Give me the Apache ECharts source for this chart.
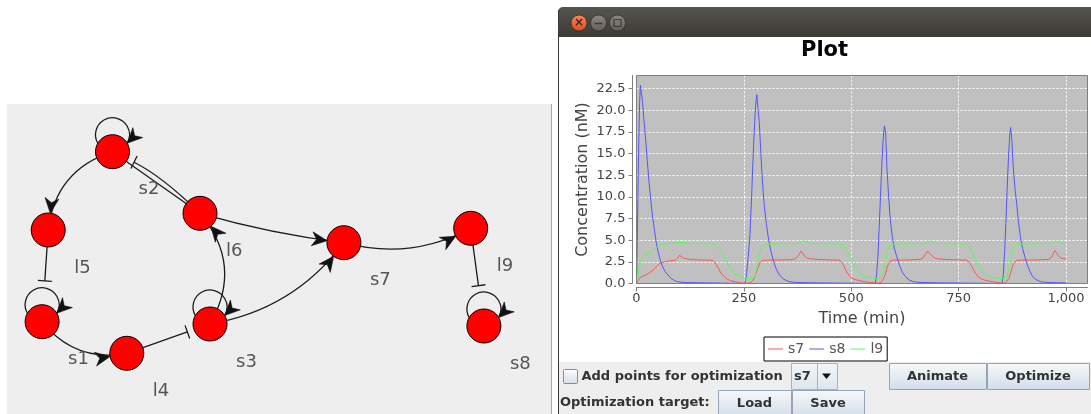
<!DOCTYPE html>
<html><head><meta charset="utf-8">
<script src="https://cdn.jsdelivr.net/npm/echarts@6/dist/echarts.min.js"></script>
<style>html,body{margin:0;padding:0;background:#fff;}#c{width:1091px;height:414px;}</style>
</head><body><div id="c"></div>
<script>
// ---------- plot data (time in min, concentration in nM) ----------
const seriesNames = ['s7', 's8', 'l9'];
const s7Data = [[0,0],[4,0.4],[9,0.7],[15,0.85],[22,1.0],[30,1.22],[36,1.45],[42,1.72],[48,2.0],[54,2.3],[61,2.45],[69,2.55],[80,2.62],[90,2.7],[96,2.95],[100,3.25],[104,3.15],[109,2.95],[115,2.85],[130,2.75],[150,2.72],[176,2.68],[181,2.5],[186,2.15],[190,1.8],[195,1.35],[200,1.0],[206,0.7],[212,0.48],[220,0.32],[230,0.2],[240,0.1],[252,0.03],[260,0.04],[265,0.12],[270,0.3],[275,0.8],[280,1.45],[284,2.0],[288,2.45],[293,2.65],[300,2.7],[330,2.72],[360,2.75],[370,2.85],[377,3.2],[383,3.75],[387,3.65],[391,3.2],[396,2.95],[405,2.85],[430,2.75],[472,2.7],[477,2.5],[482,2.1],[486,1.65],[491,1.2],[497,0.8],[504,0.55],[513,0.4],[525,0.27],[536,0.18],[548,0.1],[560,0.04],[566,0.08],[571,0.2],[575,0.4],[579,1.0],[583,1.8],[587,2.3],[591,2.6],[598,2.7],[630,2.72],[660,2.78],[667,2.95],[672,3.3],[678,3.75],[682,3.7],[687,3.25],[693,2.95],[700,2.85],[730,2.75],[768,2.7],[774,2.5],[779,2.1],[784,1.65],[789,1.2],[795,0.8],[802,0.55],[810,0.4],[822,0.27],[833,0.17],[845,0.09],[855,0.04],[860,0.12],[864,0.3],[867,0.6],[871,1.2],[875,1.9],[879,2.4],[884,2.62],[890,2.7],[930,2.72],[960,2.78],[966,3.0],[970,3.4],[974,3.8],[978,3.6],[983,3.15],[990,2.9],[1000,2.8]];
const s8Data = [[0,0],[1,2],[3,9],[5,15.5],[7,20.5],[9,22.9],[11,22.7],[14,21],[17,19],[21,16.8],[25,14.2],[29,11.8],[33,9.7],[37,7.9],[42,6.1],[46,4.7],[51,3.5],[56,2.6],[61,1.9],[67,1.35],[73,1.0],[80,0.62],[88,0.35],[96,0.2],[110,0.12],[140,0.09],[166,0.07],[168,0],[252,0],[256,1],[260,3],[264,5.5],[268,10],[271,14],[274,17.5],[277,20.3],[280,21.8],[283,21.6],[286,18.5],[289,15.5],[292,12.8],[295,10.5],[298,8.8],[302,7],[306,5.6],[310,4.4],[315,3.3],[320,2.4],[326,1.6],[332,1.05],[340,0.6],[348,0.35],[357,0.2],[370,0.12],[400,0.09],[423,0.07],[425,0],[556,0],[559,1],[562,3],[565,6.5],[568,10],[571,13.5],[574,16.5],[577,18.2],[580,17.5],[583,13.4],[587,10],[591,7.3],[595,5.6],[600,4.1],[606,3.1],[612,2.1],[619,1.3],[626,0.8],[635,0.4],[645,0.2],[660,0.12],[690,0.09],[719,0.07],[721,0],[851,0],[854,1],[857,3.5],[860,7],[863,11],[866,14.5],[869,17.2],[871,18],[874,16.5],[877,13.5],[881,11],[885,9.3],[889,7.2],[894,5.3],[899,4],[904,3.1],[910,2.1],[916,1.4],[922,0.8],[930,0.45],[941,0.2],[955,0.12],[980,0.09],[1000,0.07]];
const l9Data = [[0,0],[3,0.8],[6,1.8],[9,2.5],[12,2.95],[16,3.15],[22,3.3],[28,3.5],[34,3.65],[40,3.85],[46,4.1],[52,4.35],[58,4.5],[65,4.55],[80,4.6],[92,4.7],[100,4.75],[110,4.72],[125,4.62],[150,4.58],[181,4.57],[186,4.45],[192,4.15],[197,3.8],[202,3.3],[207,2.8],[212,2.3],[217,1.9],[223,1.5],[230,1.12],[237,0.88],[245,0.7],[252,0.6],[262,0.56],[270,0.6],[276,0.9],[280,1.8],[284,2.9],[288,3.8],[292,4.3],[296,4.5],[305,4.55],[340,4.57],[370,4.6],[380,4.7],[386,4.9],[392,4.88],[400,4.7],[412,4.62],[440,4.57],[478,4.55],[483,4.35],[488,3.95],[493,3.5],[498,3.0],[503,2.45],[508,1.95],[514,1.5],[520,1.15],[527,0.9],[534,0.78],[542,0.68],[550,0.6],[558,0.56],[566,0.6],[572,0.9],[576,1.6],[580,2.7],[584,3.7],[588,4.25],[592,4.5],[600,4.55],[640,4.57],[668,4.6],[675,4.75],[681,4.9],[688,4.82],[695,4.65],[705,4.6],[740,4.57],[768,4.55],[773,4.35],[778,3.95],[783,3.5],[788,3.0],[793,2.45],[798,1.95],[804,1.5],[810,1.15],[817,0.9],[824,0.78],[832,0.68],[840,0.6],[850,0.56],[858,0.6],[863,0.9],[867,1.6],[871,2.7],[875,3.7],[879,4.25],[883,4.5],[890,4.55],[930,4.57],[962,4.6],[970,4.75],[976,4.9],[983,4.8],[990,4.65],[1000,4.6]];
const xTickStep = 250;
const yTickStep = 2.5;

// ---------- network diagram data ----------
const nodeNames = ['s2', 'l5', 's1', 'l4', 's3', 'l6', 's7', 'l9', 's8'];
const nodeX = [112.5, 48.2, 42.1, 126.8, 210, 200, 343.9, 470.7, 483.9];
const nodeY = [151.7, 230, 321.7, 353.3, 324, 213.3, 242.7, 228.3, 326];
const edgeSource = ['s2', 'l5', 's1', 'l4', 's3', 's2', 'l6', 'l6', 's3', 's7', 'l9'];
const edgeTarget = ['l5', 's1', 'l4', 's3', 'l6', 'l6', 's2', 's7', 's7', 'l9', 's8'];
const edgeKind   = ['act', 'inh', 'act', 'inh', 'act', 'link', 'inh', 'act', 'act', 'act', 'inh'];
const edgeBend   = [0.32, 0, 0.3, 0, 0.35, 0, 0.08, 0.04, 0.2, 0.2, 0];
const selfLoops  = ['s2', 's1', 's3', 's8'];

const FONT = '"DejaVu Sans", sans-serif';
const R = 17, AL = 15, AW = 7, AN = 4.5, THALF = 7, TGAP = 7;
const LINE = '#1c1c1c';

function arrowHead(tip, u) {
  const n = [-u[1], u[0]];
  return { type: 'polygon', shape: { points: [
    tip,
    [tip[0] - u[0] * AL + n[0] * AW, tip[1] - u[1] * AL + n[1] * AW],
    [tip[0] - u[0] * (AL - AN), tip[1] - u[1] * (AL - AN)],
    [tip[0] - u[0] * AL - n[0] * AW, tip[1] - u[1] * AL - n[1] * AW]
  ] }, style: { fill: '#111', stroke: '#111', lineWidth: 0.6 } };
}
function curve(a, c, b, straight) {
  if (straight) return { type: 'line', shape: { x1: a[0], y1: a[1], x2: b[0], y2: b[1] }, style: { stroke: LINE, lineWidth: 1.3 } };
  return { type: 'bezierCurve', shape: { x1: a[0], y1: a[1], x2: b[0], y2: b[1], cpx1: c[0], cpy1: c[1] }, style: { stroke: LINE, lineWidth: 1.3, fill: null } };
}
function renderEdge(params, api) {
  const k = api.value(2);
  const si = nodeNames.indexOf(edgeSource[k]), ti = nodeNames.indexOf(edgeTarget[k]);
  const a = api.coord([nodeX[si], nodeY[si]]), b = api.coord([nodeX[ti], nodeY[ti]]);
  const dx = b[0] - a[0], dy = b[1] - a[1];
  const bend = edgeBend[k];
  const c = [(a[0] + b[0]) / 2 - dy * bend, (a[1] + b[1]) / 2 + dx * bend];
  const tx = b[0] - c[0], ty = b[1] - c[1], tl = Math.hypot(tx, ty);
  const u = [tx / tl, ty / tl];
  const straight = bend === 0;
  const ch = [];
  if (edgeKind[k] === 'act') {
    ch.push(curve(a, c, b, straight));
    ch.push(arrowHead([b[0] - u[0] * R, b[1] - u[1] * R], u));
  } else if (edgeKind[k] === 'inh') {
    const v = [-u[0], -u[1]];
    let d = R;
    if (selfLoops.indexOf(edgeTarget[k]) >= 0) d = Math.max(d, -2 * R * v[1]);
    d += TGAP;
    const p = [b[0] + v[0] * d, b[1] + v[1] * d];
    ch.push(curve(a, c, p, straight));
    const n = [-u[1], u[0]];
    ch.push({ type: 'line', shape: { x1: p[0] + n[0] * THALF, y1: p[1] + n[1] * THALF, x2: p[0] - n[0] * THALF, y2: p[1] - n[1] * THALF }, style: { stroke: LINE, lineWidth: 1.3 } });
  } else {
    ch.push(curve(a, c, b, straight));
  }
  return { type: 'group', children: ch };
}
function renderLoop(params, api) {
  const i = nodeNames.indexOf(selfLoops[api.value(2)]);
  const p = api.coord([nodeX[i], nodeY[i]]);
  const cx = p[0], cy = p[1] - R, th = Math.PI / 6;
  const tip = [cx + R * Math.cos(th), cy + R * Math.sin(th)];
  return { type: 'group', children: [
    { type: 'arc', shape: { cx: cx, cy: cy, r: R, startAngle: Math.PI - th, endAngle: 2 * Math.PI + th, clockwise: true }, style: { stroke: LINE, lineWidth: 1.3, fill: null } },
    arrowHead(tip, [-Math.SQRT1_2, Math.SQRT1_2])
  ] };
}

function btnFill() {
  return { type: 'linear', x: 0, y: 0, x2: 0, y2: 1, colorStops: [{ offset: 0, color: '#f7f9fb' }, { offset: 1, color: '#d2dde8' }] };
}
function button(x, y, w, h, label) {
  return [
    { type: 'rect', z: 50, shape: { x: x + 0.5, y: y + 0.5, width: w, height: h }, style: { fill: btnFill(), stroke: '#93a5b7', lineWidth: 1 } },
    { type: 'text', z: 51, x: x + w / 2, y: y + 13.5, style: { text: label, font: 'bold 13px ' + FONT, fill: '#333', align: 'center', verticalAlign: 'middle' } }
  ];
}

const graphics = [
  { type: 'rect', z: -20, shape: { x: 7, y: 104, width: 544, height: 310 }, style: { fill: '#eeeeee' } },
  { type: 'line', z: -19, shape: { x1: 551.5, y1: 104, x2: 551.5, y2: 414 }, style: { stroke: '#a9a9a9', lineWidth: 1 } },
  { type: 'rect', z: -20, shape: { x: 558, y: 7, width: 533, height: 407 }, style: { fill: '#ffffff' } },
  { type: 'rect', z: -19, shape: { x: 558, y: 7, width: 533, height: 30, r: [5, 0, 0, 0] }, style: { fill: { type: 'linear', x: 0, y: 0, x2: 0, y2: 1, colorStops: [{ offset: 0, color: '#55544f' }, { offset: 1, color: '#3c3b37' }] } } },
  { type: 'line', z: -18, shape: { x1: 558.5, y1: 10, x2: 558.5, y2: 414 }, style: { stroke: '#3c3b37', lineWidth: 1 } },
  { type: 'rect', z: -19, shape: { x: 559, y: 362, width: 532, height: 52 }, style: { fill: '#eeeeee' } },
  // window buttons
  { type: 'circle', z: 40, shape: { cx: 579, cy: 23, r: 8 }, style: { fill: { type: 'linear', x: 0, y: 0, x2: 0, y2: 1, colorStops: [{ offset: 0, color: '#f7875a' }, { offset: 1, color: '#de4b19' }] }, stroke: '#2f2e2b', lineWidth: 0.8 } },
  { type: 'text', z: 41, x: 579, y: 23, style: { text: '×', font: 'bold 12px ' + FONT, fill: '#3a2a22', align: 'center', verticalAlign: 'middle' } },
  { type: 'circle', z: 40, shape: { cx: 598.5, cy: 23, r: 8 }, style: { fill: { type: 'linear', x: 0, y: 0, x2: 0, y2: 1, colorStops: [{ offset: 0, color: '#8a8984' }, { offset: 1, color: '#5f5e5a' }] }, stroke: '#2f2e2b', lineWidth: 0.8 } },
  { type: 'line', z: 41, shape: { x1: 594.5, y1: 23.5, x2: 602.5, y2: 23.5 }, style: { stroke: '#3c3b37', lineWidth: 1.5 } },
  { type: 'circle', z: 40, shape: { cx: 617.5, cy: 23, r: 8 }, style: { fill: { type: 'linear', x: 0, y: 0, x2: 0, y2: 1, colorStops: [{ offset: 0, color: '#8a8984' }, { offset: 1, color: '#5f5e5a' }] }, stroke: '#2f2e2b', lineWidth: 0.8 } },
  { type: 'rect', z: 41, shape: { x: 614, y: 19.5, width: 7, height: 7 }, style: { fill: null, stroke: '#3c3b37', lineWidth: 1.2 } },
  // plot outline (drawn over the data, as in the original)
  { type: 'rect', z: 100, shape: { x: 636.5, y: 75.5, width: 451, height: 208 }, style: { fill: null, stroke: '#808080', lineWidth: 1 } },
  // controls
  { type: 'rect', z: 50, shape: { x: 563.5, y: 369.5, width: 14, height: 14, r: 1 }, style: { fill: { type: 'linear', x: 0, y: 0, x2: 0, y2: 1, colorStops: [{ offset: 0, color: '#ffffff' }, { offset: 1, color: '#d3dce7' }] }, stroke: '#7d8ea3', lineWidth: 1 } },
  { type: 'text', z: 51, x: 581.5, y: 377, style: { text: 'Add points for optimization', font: 'bold 13px ' + FONT, fill: '#333', align: 'left', verticalAlign: 'middle' } },
  { type: 'rect', z: 50, shape: { x: 791.5, y: 363.5, width: 46, height: 26 }, style: { fill: { type: 'linear', x: 0, y: 0, x2: 0, y2: 1, colorStops: [{ offset: 0, color: '#f3f6f9' }, { offset: 1, color: '#dde5ed' }] }, stroke: '#a3b3c3', lineWidth: 1 } },
  { type: 'line', z: 51, shape: { x1: 817.5, y1: 364, x2: 817.5, y2: 389 }, style: { stroke: '#a3b3c3', lineWidth: 1 } },
  { type: 'text', z: 51, x: 794, y: 377, style: { text: 's7', font: 'bold 13px ' + FONT, fill: '#333', align: 'left', verticalAlign: 'middle' } },
  { type: 'polygon', z: 51, shape: { points: [[822, 373.5], [831, 373.5], [826.5, 379]] }, style: { fill: '#111' } },
  { type: 'text', z: 51, x: 560, y: 403, style: { text: 'Optimization target:', font: 'bold 13px ' + FONT, fill: '#333', align: 'left', verticalAlign: 'middle' } }
].concat(button(889, 363, 97, 26, 'Animate'), button(987, 363, 102, 26, 'Optimize'),
         button(718, 390, 73, 26, 'Load'), button(792, 390, 72, 26, 'Save'));

const colors = ['#ff5555', '#5555ff', '#55ff55'];
const lineSeries = [s7Data, s8Data, l9Data].map((d, i) => ({
  name: seriesNames[i], type: 'line', xAxisIndex: 0, yAxisIndex: 0, data: d,
  symbol: 'none', showSymbol: false, color: colors[i],
  lineStyle: { width: 1, color: colors[i] }, z: 4, silent: true
}));

const chart = echarts.init(document.getElementById('c'), null, { renderer: 'canvas' });
chart.setOption({
  animation: false,
  textStyle: { fontFamily: FONT },
  title: { text: 'Plot', left: 801, top: 40, padding: 0, textStyle: { fontSize: 21, fontWeight: 'bold', color: '#000', fontFamily: FONT } },
  legend: {
    data: seriesNames.map(n => ({ name: n, icon: 'rect' })), left: 764, top: 337, padding: [5, 4], itemGap: 5, itemWidth: 15, itemHeight: 1,
    borderColor: '#000', borderWidth: 1, borderRadius: 0, backgroundColor: '#fff',
    textStyle: { fontSize: 14, color: '#555', fontFamily: FONT, lineHeight: 14 }, selectedMode: false
  },
  grid: [
    { left: 636.5, top: 75.5, width: 451, height: 208, show: true, backgroundColor: '#c0c0c0', borderWidth: 0, containLabel: false },
    { left: 0, top: 0, width: 560, height: 414, show: false, containLabel: false }
  ],
  xAxis: [
    { gridIndex: 0, type: 'value', min: 0, max: 1050, interval: xTickStep, offset: 4,
      axisLine: { show: true, onZero: false, lineStyle: { color: '#808080' } },
      axisTick: { show: true, length: 4, lineStyle: { color: '#808080' } },
      axisLabel: { color: '#444', fontSize: 13, margin: 5, showMaxLabel: false,
        formatter: v => (v % xTickStep === 0 && v <= 1000) ? v.toLocaleString('en-US') : '' },
      splitLine: { show: true, lineStyle: { color: '#ffffff', type: [2, 2], width: 1 } },
      name: 'Time (min)', nameLocation: 'middle', nameGap: 22,
      nameTextStyle: { fontSize: 16, color: '#444', fontFamily: FONT } },
    { gridIndex: 1, type: 'value', min: 0, max: 560, show: false }
  ],
  yAxis: [
    { gridIndex: 0, type: 'value', min: 0, max: 24, interval: yTickStep, offset: 4,
      axisLine: { show: true, onZero: false, lineStyle: { color: '#808080' } },
      axisTick: { show: true, length: 4, lineStyle: { color: '#808080' } },
      axisLabel: { color: '#444', fontSize: 13, margin: 7, showMaxLabel: false,
        formatter: v => (Math.abs(v / yTickStep - Math.round(v / yTickStep)) < 1e-6 && v <= 22.5) ? v.toFixed(1) : '' },
      splitLine: { show: true, lineStyle: { color: '#ffffff', type: [2, 2], width: 1 } },
      name: 'Concentration (nM)', nameLocation: 'middle', nameGap: 42, nameRotate: 90,
      nameTextStyle: { fontSize: 16, color: '#444', fontFamily: FONT } },
    { gridIndex: 1, type: 'value', min: 0, max: 414, inverse: true, show: false }
  ],
  graphic: { elements: graphics },
  series: lineSeries.concat([
    { type: 'custom', name: 'edges', xAxisIndex: 1, yAxisIndex: 1, silent: true, clip: false, z: 3,
      data: edgeSource.map((s, i) => [nodeX[nodeNames.indexOf(s)], nodeY[nodeNames.indexOf(s)], i]),
      encode: { x: 0, y: 1 }, renderItem: renderEdge },
    { type: 'custom', name: 'loops', xAxisIndex: 1, yAxisIndex: 1, silent: true, clip: false, z: 3,
      data: selfLoops.map((s, i) => [nodeX[nodeNames.indexOf(s)], nodeY[nodeNames.indexOf(s)], i]),
      encode: { x: 0, y: 1 }, renderItem: renderLoop },
    { type: 'scatter', name: 'nodes', xAxisIndex: 1, yAxisIndex: 1, silent: true, z: 5,
      symbol: 'circle', symbolSize: 34,
      itemStyle: { color: '#ff0000', borderColor: '#000', borderWidth: 1, opacity: 1 },
      label: { show: true, formatter: '{b}', position: 'inside', align: 'left', verticalAlign: 'middle',
        offset: [26, 38], fontSize: 18, color: '#555', fontFamily: FONT },
      data: nodeNames.map((n, i) => ({ name: n, value: [nodeX[i], nodeY[i]] })) }
  ])
});
</script>
</body></html>
